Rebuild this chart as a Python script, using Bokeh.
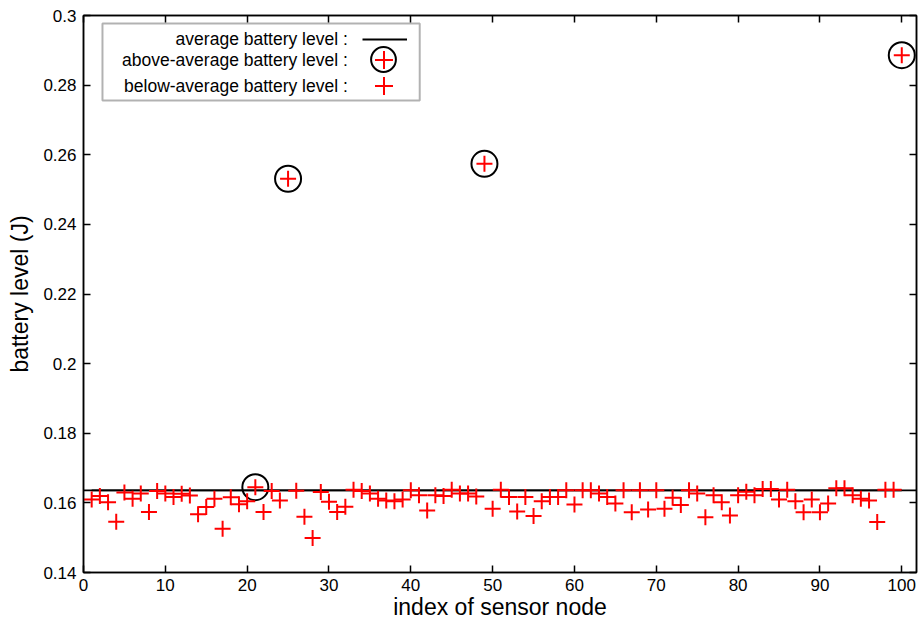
from bokeh.plotting import figure
from bokeh.models import (Range1d, FixedTicker, LinearAxis, Span, Label,
                          BoxAnnotation, Legend, LegendItem, ColumnDataSource)
from bokeh.embed import file_html
from bokeh.resources import INLINE

# ---------------- data ----------------
node_index = list(range(1, 101))
battery_level = [
    0.1610, 0.1620, 0.1602, 0.1546, 0.1630, 0.1612, 0.1627, 0.1574, 0.1634, 0.1627,
    0.1617, 0.1626, 0.1621, 0.1567, 0.1588, 0.1612, 0.1526, 0.1616, 0.1596, 0.1605,
    0.1645, 0.1574, 0.1634, 0.1607, 0.2531, 0.1635, 0.1560, 0.1499, 0.1631, 0.1603,
    0.1574, 0.1589, 0.1638, 0.1634, 0.1627, 0.1612, 0.1607, 0.1605, 0.1610, 0.1636,
    0.1622, 0.1578, 0.1622, 0.1620, 0.1638, 0.1627, 0.1627, 0.1618, 0.2574, 0.1583,
    0.1638, 0.1617, 0.1575, 0.1617, 0.1562, 0.1605, 0.1617, 0.1617, 0.1636, 0.1595,
    0.1636, 0.1636, 0.1627, 0.1617, 0.1598, 0.1636, 0.1573, 0.1636, 0.1581, 0.1636,
    0.1583, 0.1615, 0.1594, 0.1636, 0.1627, 0.1559, 0.1622, 0.1602, 0.1564, 0.1622,
    0.1632, 0.1622, 0.1640, 0.1640, 0.1610, 0.1638, 0.1605, 0.1573, 0.1610, 0.1573,
    0.1598, 0.1642, 0.1642, 0.1622, 0.1612, 0.1607, 0.1545, 0.1638, 0.1638, 0.2886,
]
above_index = [21, 25, 49, 100]
average_level = 0.1636

x_ticks = [0, 10, 20, 30, 40, 50, 60, 70, 80, 90, 100]
y_ticks = [0.14, 0.16, 0.18, 0.20, 0.22, 0.24, 0.26, 0.28, 0.30]
y_tick_labels = ["0.14", "0.16", "0.18", "0.2", "0.22", "0.24", "0.26", "0.28", "0.3"]

x_title = "index of sensor node"
y_title = "battery level (J)"
key_labels = ["average battery level :",
              "above-average battery level :",
              "below-average battery level :"]

# ---------------- split into series ----------------
above_x = [i for i, v in zip(node_index, battery_level) if i in above_index]
above_y = [v for i, v in zip(node_index, battery_level) if i in above_index]
below_x = [i for i, v in zip(node_index, battery_level) if i not in above_index]
below_y = [v for i, v in zip(node_index, battery_level) if i not in above_index]

above_src = ColumnDataSource(dict(x=above_x, y=above_y))
below_src = ColumnDataSource(dict(x=below_x, y=below_y))
avg_src = ColumnDataSource(dict(x=node_index, y=[average_level] * len(node_index)))

FONT = "Liberation Sans"
RED = "#ff0000"

p = figure(width=918, height=622,
           x_range=Range1d(0, 101.8), y_range=Range1d(0.14, 0.30),
           output_backend="svg", toolbar_location=None,
           min_border_left=83, min_border_right=2,
           min_border_top=15, min_border_bottom=50)
p.background_fill_color = "white"
p.border_fill_color = "white"
p.outline_line_color = "black"
p.outline_line_width = 1.5
p.xgrid.grid_line_color = None
p.ygrid.grid_line_color = None


def style_axis(ax, ticks, show_labels):
    ax.ticker = FixedTicker(ticks=ticks)
    ax.major_tick_in = 7
    ax.major_tick_out = 0
    ax.minor_tick_line_color = None
    ax.axis_line_color = "black"
    ax.axis_line_width = 1.5
    ax.major_tick_line_color = "black"
    ax.major_tick_line_width = 1.5
    ax.major_label_text_font = FONT
    if show_labels:
        ax.major_label_text_color = "black"
        ax.major_label_text_font_size = "17px"
    else:
        ax.major_label_text_color = None
        ax.major_label_text_font_size = "1px"
        ax.major_label_standoff = 0


xa = p.xaxis[0]
ya = p.yaxis[0]
style_axis(xa, x_ticks, True)
style_axis(ya, y_ticks, True)
xa.major_label_standoff = 6
ya.major_label_standoff = 7
ya.major_label_overrides = {t: s for t, s in zip(y_ticks, y_tick_labels)}

for ax, title, stand in ((xa, x_title, 0), (ya, y_title, 7)):
    ax.axis_label = title
    ax.axis_label_text_font = FONT
    ax.axis_label_text_font_size = "23px"
    ax.axis_label_text_font_style = "normal"
    ax.axis_label_text_color = "black"
    ax.axis_label_standoff = stand

top_axis = LinearAxis()
style_axis(top_axis, x_ticks, False)
p.add_layout(top_axis, "above")
right_axis = LinearAxis()
style_axis(right_axis, y_ticks, False)
p.add_layout(right_axis, "right")

# average line across the whole frame
p.add_layout(Span(location=average_level, dimension="width",
                  line_color="black", line_width=1.8, level="underlay"))
avg_r = p.line("x", "y", source=avg_src, line_color="black", line_width=1.8)

circ_r = p.scatter("x", "y", source=above_src, marker="circle", size=26,
                   fill_color=None, line_color="black", line_width=2)
above_cross_r = p.scatter("x", "y", source=above_src, marker="cross", size=16,
                          line_color=RED, line_width=2)
below_cross_r = p.scatter("x", "y", source=below_src, marker="cross", size=16,
                          line_color=RED, line_width=2)

# ---------------- key (gnuplot style: text, then sample) ----------------
p.add_layout(BoxAnnotation(left=2.32, right=41.09, top=0.2977, bottom=0.27558,
                           fill_color="white", fill_alpha=1.0,
                           line_color="black", line_width=2))

key_rows_y = [0.29311, 0.28710, 0.27989]
for txt, yy in zip(key_labels, key_rows_y):
    p.add_layout(Label(x=32.3, y=yy, text=txt, text_font=FONT,
                       text_font_size="17.5px", text_color="black",
                       text_align="right", text_baseline="middle"))


def key_legend(renderers, loc, gw, gh):
    lg = Legend(items=[LegendItem(label=" ", renderers=renderers)],
                location=loc, glyph_width=gw, glyph_height=gh,
                padding=0, margin=0, spacing=0,
                label_width=0, label_height=gh, label_standoff=0,
                label_text_font_size="1px", label_text_color=None,
                border_line_color=None, background_fill_alpha=0)
    p.add_layout(lg, "center")


key_legend([avg_r], (279, 523), 45, 20)
key_legend([circ_r], (269, 482), 62, 62)
key_legend([above_cross_r], (278, 490), 45, 45)
key_legend([below_cross_r], (278, 464), 45, 45)

open("out.html", "w").write(file_html(p, INLINE))
